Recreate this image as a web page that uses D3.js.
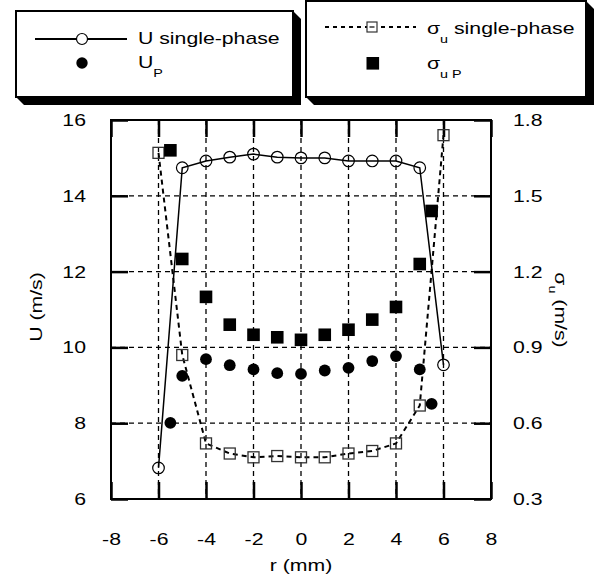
<!DOCTYPE html>
<html><head><meta charset="utf-8">
<script src="https://cdn.jsdelivr.net/npm/d3@7"></script>
<style>
body{margin:0;background:#fff;}
svg{display:block;font-family:"Liberation Sans",Arial,sans-serif;}
</style></head>
<body><svg id="c" width="594" height="582"></svg>
<script>
const rSingle = [-6,-5,-4,-3,-2,-1,0,1,2,3,4,5,6];
const uSingle = [6.82,14.74,14.92,15.02,15.10,15.02,15.0,15.0,14.92,14.92,14.92,14.74,9.54];
const sigmaSingle = [1.67,0.87,0.52,0.48,0.465,0.47,0.465,0.465,0.48,0.49,0.52,0.67,1.74];
const rP = [-5.5,-5,-4,-3,-2,-1,0,1,2,3,4,5,5.5];
const uP = [8.01,9.25,9.69,9.53,9.42,9.32,9.30,9.39,9.46,9.64,9.77,9.42,8.51];
const sigmaP = [1.68,1.25,1.10,0.99,0.95,0.94,0.93,0.95,0.97,1.01,1.06,1.23,1.44];
const xTicks = [-8,-6,-4,-2,0,2,4,6,8];
const yTicks = [6,8,10,12,14,16];
const y2Ticks = [0.3,0.6,0.9,1.2,1.5,1.8];

const FS = 17, K = 1.25;
const svg = d3.select("#c");
const L=111, R=491, T=120, B=499;
const x = d3.scaleLinear().domain([-8,8]).range([L,R]);
const y = d3.scaleLinear().domain([6,16]).range([B,T]);
const y2 = d3.scaleLinear().domain([0.3,1.8]).range([B,T]);

function stretch(sel){
  sel.each(function(){
    const t = d3.select(this);
    const ax = +t.attr("x") || 0;
    const prev = t.attr("transform") || "";
    t.attr("transform", `${prev} translate(${ax},0) scale(${K},1) translate(${-ax},0)`);
  });
}

// grid
const g = svg.append("g");
g.selectAll(".vg").data(xTicks.slice(1,-1)).enter().append("line")
 .attr("x1",d=>x(d)).attr("x2",d=>x(d)).attr("y1",T).attr("y2",B)
 .attr("stroke","#000").attr("stroke-width",1.3).attr("stroke-dasharray","5,4");
g.selectAll(".hg").data(yTicks.slice(1,-1)).enter().append("line")
 .attr("y1",d=>y(d)).attr("y2",d=>y(d)).attr("x1",L).attr("x2",R)
 .attr("stroke","#000").attr("stroke-width",1.3).attr("stroke-dasharray","5,4");

// axes
const fmt = d => String(d);
function styleAxis(sel){
  sel.select(".domain").remove();
  sel.selectAll(".tick line").attr("stroke","#000").attr("stroke-width",2.5);
  sel.selectAll("text").attr("font-size",FS).attr("fill","#000").attr("font-family","Liberation Sans, Arial, sans-serif").call(stretch);
}
svg.append("g").attr("transform",`translate(0,${B})`)
 .call(d3.axisBottom(x).tickValues(xTicks).tickSize(-17).tickPadding(34).tickFormat(fmt))
 .call(styleAxis);
svg.append("g").attr("transform",`translate(0,${T})`)
 .call(d3.axisTop(x).tickValues(xTicks).tickSize(-17).tickFormat(""))
 .call(styleAxis);
svg.append("g").attr("transform",`translate(${L},0)`)
 .call(d3.axisLeft(y).tickValues(yTicks).tickSize(-17).tickPadding(25).tickFormat(fmt))
 .call(styleAxis);
svg.append("g").attr("transform",`translate(${R},0)`)
 .call(d3.axisRight(y2).tickValues(y2Ticks).tickSize(-17).tickPadding(22).tickFormat(d3.format(".1f")))
 .call(styleAxis);

svg.append("rect").attr("x",L).attr("y",T).attr("width",R-L).attr("height",B-T)
 .attr("fill","none").attr("stroke","#000").attr("stroke-width",2);

// labels
svg.append("text").attr("x",x(0)).attr("y",571).attr("text-anchor","middle")
 .attr("font-size",FS).text("r (mm)").call(stretch);
svg.append("text").attr("transform","translate(42,307) rotate(-90)").attr("text-anchor","middle")
 .attr("font-size",FS).text("U (m/s)").call(stretch);
const rl = svg.append("text").attr("transform","translate(555,310) rotate(90)").attr("text-anchor","middle")
 .attr("font-size",FS);
rl.append("tspan").text("σ");
rl.append("tspan").attr("font-size",11.5).attr("dy",6).text("u");
rl.append("tspan").attr("dy",-6).text(" (m/s)");
rl.call(stretch);

// data
const single = rSingle.map((r,i)=>({r,u:uSingle[i],s:sigmaSingle[i]}));
const part = rP.map((r,i)=>({r,u:uP[i],s:sigmaP[i]}));

svg.append("path").datum(single)
 .attr("d",d3.line().x(d=>x(d.r)).y(d=>y2(d.s)))
 .attr("fill","none").attr("stroke","#000").attr("stroke-width",2).attr("stroke-dasharray","5,4");
svg.append("path").datum(single)
 .attr("d",d3.line().x(d=>x(d.r)).y(d=>y(d.u)))
 .attr("fill","none").attr("stroke","#000").attr("stroke-width",1.5);

svg.selectAll(".sq").data(single).enter().append("rect")
 .attr("x",d=>x(d.r)-5.5).attr("y",d=>y2(d.s)-5.5).attr("width",11).attr("height",11)
 .attr("fill","none").attr("stroke","#333").attr("stroke-width",1.3);
svg.selectAll(".oc").data(single).enter().append("circle")
 .attr("cx",d=>x(d.r)).attr("cy",d=>y(d.u)).attr("r",5.8)
 .attr("fill","none").attr("stroke","#000").attr("stroke-width",1.2);
svg.selectAll(".fsq").data(part).enter().append("rect")
 .attr("x",d=>x(d.r)-6.3).attr("y",d=>y2(d.s)-6.3).attr("width",12.6).attr("height",12.6)
 .attr("fill","#000");
svg.selectAll(".fc").data(part).enter().append("circle")
 .attr("cx",d=>x(d.r)).attr("cy",d=>y(d.u)).attr("r",5.9).attr("fill","#000");

// legends
function box(x0,y0,x1,y1,d){
  svg.append("polygon").attr("points",
   `${x0},${y1} ${x0+d},${y1+d} ${x1+d},${y1+d} ${x1+d},${y0+d} ${x1},${y0}`).attr("fill","#000");
  svg.append("rect").attr("x",x0).attr("y",y0).attr("width",x1-x0).attr("height",y1-y0)
   .attr("fill","#fff").attr("stroke","#000").attr("stroke-width",2);
}
box(16,11,293,97,8);
box(306,1,586,97,8);

// legend 1
svg.append("line").attr("x1",35).attr("x2",127).attr("y1",39).attr("y2",39).attr("stroke","#000").attr("stroke-width",2);
svg.append("circle").attr("cx",82).attr("cy",39).attr("r",5.5).attr("fill","#fff").attr("stroke","#000").attr("stroke-width",1.2);
svg.append("text").attr("x",138).attr("y",44).attr("font-size",FS).text("U single-phase").call(stretch);
svg.append("circle").attr("cx",82).attr("cy",63).attr("r",5.7).attr("fill","#000");
const t1 = svg.append("text").attr("x",138).attr("y",68).attr("font-size",FS);
t1.append("tspan").text("U");
t1.append("tspan").attr("font-size",11.5).attr("dy",9).text("P");
t1.call(stretch);

// legend 2
svg.append("line").attr("x1",325).attr("x2",416).attr("y1",27).attr("y2",27).attr("stroke","#000").attr("stroke-width",2).attr("stroke-dasharray","4,4");
svg.append("rect").attr("x",367).attr("y",22).attr("width",10).attr("height",10).attr("fill","#fff").attr("stroke","#333").attr("stroke-width",1.2);
svg.append("line").attr("x1",369.5).attr("x2",374.5).attr("y1",27).attr("y2",27).attr("stroke","#000").attr("stroke-width",1.2);
const t2 = svg.append("text").attr("x",427).attr("y",34).attr("font-size",FS);
t2.append("tspan").text("σ");
t2.append("tspan").attr("font-size",11.5).attr("dy",9).text("u");
t2.append("tspan").attr("dy",-9).text(" single-phase");
t2.call(stretch);
svg.append("rect").attr("x",366.5).attr("y",57).attr("width",12.6).attr("height",12.6).attr("fill","#000");
const t3 = svg.append("text").attr("x",427).attr("y",69).attr("font-size",FS);
t3.append("tspan").text("σ");
t3.append("tspan").attr("font-size",11.5).attr("dy",9).text("u P");
t3.call(stretch);
</script></body></html>
